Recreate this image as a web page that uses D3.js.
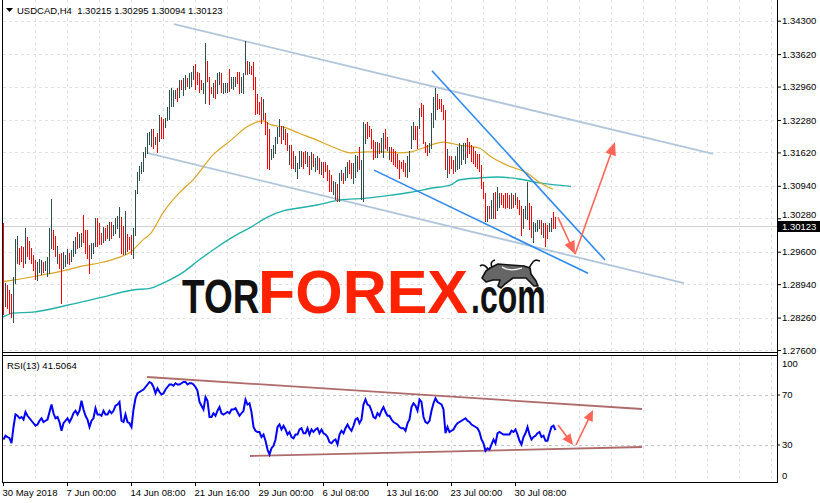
<!DOCTYPE html>
<html><head><meta charset="utf-8">
<script src="https://cdn.jsdelivr.net/npm/d3@7"></script>
<style>
html,body{margin:0;padding:0;background:#fff;}
svg{display:block;}
text{font-family:"Liberation Sans",Arial,sans-serif;}
</style></head><body>
<svg id="c" width="820" height="503"></svg>
<script>
// ---------- DATA ----------
const symbol = "USDCAD,H4";
const lastQuote = ["1.30215","1.30295","1.30094","1.30123"];
const rsiTitle = "RSI(13) 41.5064";
const priceTicks = [1.343,1.3362,1.3296,1.3228,1.3162,1.3094,1.3028,1.296,1.2894,1.2826,1.276];
const rsiTicks = [100,70,30,0];
const rsiLevels = [70,30];
const timeTickIdx = [0,32,64,96,128,160,192,224,256];
const timeTickLabels = ["30 May 2018","7 Jun 00:00","14 Jun 08:00","21 Jun 16:00","29 Jun 00:00","6 Jul 08:00","13 Jul 16:00","23 Jul 00:00","30 Jul 08:00"];

const firstOpen = 1.3005;
const high = [
1.3018,1.2896,1.2892,1.2882,1.2872,1.2908,1.2984,1.2990,1.2967,1.2971,
1.2969,1.3008,1.2988,1.2980,1.2967,1.2953,1.2943,1.2939,1.2945,1.2943,
1.2939,1.2941,1.2949,1.3008,1.3067,1.3004,1.2990,1.2971,1.2955,1.2957,
1.2959,1.2953,1.2965,1.2957,1.2963,1.2980,1.2988,1.3000,1.2994,1.2998,
1.3034,1.3004,1.3004,1.2973,1.2977,1.2977,1.3028,1.3028,1.3018,1.2998,
1.3010,1.3008,1.3014,1.3020,1.3020,1.3014,1.3028,1.3032,1.3049,1.3030,
1.3012,1.3041,1.2994,1.2988,1.2992,1.3008,1.3085,1.3122,1.3134,1.3142,
1.3161,1.3173,1.3201,1.3203,1.3208,1.3208,1.3193,1.3201,1.3238,1.3234,
1.3228,1.3232,1.3254,1.3289,1.3293,1.3289,1.3289,1.3293,1.3309,1.3309,
1.3313,1.3319,1.3313,1.3323,1.3325,1.3336,1.3340,1.3325,1.3323,1.3309,
1.3303,1.3384,1.3346,1.3315,1.3295,1.3303,1.3309,1.3323,1.3325,1.3323,
1.3303,1.3303,1.3303,1.3330,1.3315,1.3315,1.3315,1.3325,1.3325,1.3315,
1.3323,1.3387,1.3346,1.3344,1.3336,1.3344,1.3315,1.3279,1.3264,1.3273,
1.3269,1.3242,1.3222,1.3208,1.3167,1.3177,1.3193,1.3212,1.3228,1.3214,
1.3214,1.3208,1.3201,1.3177,1.3177,1.3163,1.3153,1.3140,1.3163,1.3163,
1.3161,1.3163,1.3161,1.3153,1.3161,1.3157,1.3150,1.3153,1.3150,1.3142,
1.3142,1.3142,1.3136,1.3126,1.3116,1.3102,1.3100,1.3096,1.3120,1.3126,
1.3120,1.3132,1.3142,1.3146,1.3140,1.3140,1.3155,1.3153,1.3173,1.3146,
1.3222,1.3218,1.3222,1.3214,1.3208,1.3187,1.3183,1.3183,1.3181,1.3191,
1.3201,1.3208,1.3193,1.3173,1.3171,1.3167,1.3163,1.3157,1.3146,1.3142,
1.3146,1.3140,1.3153,1.3163,1.3214,1.3222,1.3214,1.3214,1.3252,1.3262,
1.3258,1.3183,1.3177,1.3181,1.3242,1.3273,1.3293,1.3279,1.3269,1.3269,
1.3258,1.3248,1.3167,1.3153,1.3153,1.3146,1.3153,1.3171,1.3181,1.3177,
1.3181,1.3181,1.3191,1.3183,1.3177,1.3171,1.3163,1.3157,1.3157,1.3136,
1.3100,1.3079,1.3051,1.3051,1.3065,1.3079,1.3081,1.3091,1.3079,1.3079,
1.3075,1.3079,1.3079,1.3075,1.3079,1.3075,1.3079,1.3071,1.3065,1.3051,
1.3045,1.3051,1.3100,1.3059,1.3051,1.3020,1.3018,1.3024,1.3024,1.3024,
1.3018,1.3018,1.3014,1.3018,1.3028,1.3040,1.30295];
const low = [
1.2835,1.2851,1.2847,1.2837,1.2829,1.2817,1.2898,1.2939,1.2937,1.2943,
1.2929,1.2939,1.2953,1.2947,1.2939,1.2923,1.2906,1.2904,1.2919,1.2916,
1.2919,1.2923,1.2912,1.2918,1.2969,1.2967,1.2953,1.2939,1.2927,1.2857,
1.2927,1.2931,1.2939,1.2937,1.2943,1.2953,1.2959,1.2969,1.2971,1.2973,
1.2980,1.2959,1.2949,1.2918,1.2949,1.2959,1.2973,1.2973,1.2977,1.2977,
1.2980,1.2984,1.2988,1.2984,1.2988,1.2994,1.3000,1.3010,1.2990,1.2959,
1.2957,1.2957,1.2963,1.2967,1.2957,1.2949,1.2994,1.3081,1.3106,1.3122,
1.3126,1.3153,1.3161,1.3181,1.3177,1.3173,1.3181,1.3163,1.3187,1.3193,
1.3193,1.3214,1.3228,1.3232,1.3258,1.3258,1.3273,1.3268,1.3275,1.3293,
1.3279,1.3293,1.3299,1.3295,1.3299,1.3313,1.3293,1.3303,1.3285,1.3293,
1.3283,1.3264,1.3309,1.3262,1.3283,1.3275,1.3273,1.3283,1.3303,1.3285,
1.3283,1.3285,1.3285,1.3289,1.3295,1.3293,1.3299,1.3305,1.3283,1.3285,
1.3283,1.3323,1.3323,1.3325,1.3323,1.3293,1.3242,1.3244,1.3242,1.3222,
1.3232,1.3201,1.3132,1.3130,1.3150,1.3153,1.3161,1.3183,1.3197,1.3183,
1.3191,1.3181,1.3167,1.3140,1.3132,1.3132,1.3126,1.3110,1.3132,1.3136,
1.3132,1.3142,1.3136,1.3120,1.3130,1.3136,1.3126,1.3130,1.3122,1.3120,
1.3112,1.3126,1.3106,1.3085,1.3085,1.3079,1.3069,1.3065,1.3065,1.3106,
1.3100,1.3106,1.3112,1.3122,1.3110,1.3100,1.3112,1.3126,1.3130,1.3069,
1.3065,1.3183,1.3193,1.3197,1.3173,1.3150,1.3153,1.3153,1.3161,1.3163,
1.3153,1.3173,1.3167,1.3150,1.3146,1.3140,1.3136,1.3132,1.3110,1.3132,
1.3126,1.3116,1.3112,1.3126,1.3173,1.3191,1.3191,1.3171,1.3212,1.3238,
1.3183,1.3163,1.3157,1.3163,1.3173,1.3214,1.3232,1.3252,1.3254,1.3248,
1.3232,1.3130,1.3112,1.3122,1.3132,1.3122,1.3126,1.3130,1.3132,1.3140,
1.3150,1.3142,1.3153,1.3161,1.3146,1.3142,1.3136,1.3132,1.3126,1.3091,
1.3071,1.3024,1.3024,1.3030,1.3030,1.3030,1.3030,1.3045,1.3051,1.3059,
1.3051,1.3049,1.3051,1.3049,1.3049,1.3051,1.3059,1.3049,1.3038,1.2994,
1.3010,1.3030,1.3028,1.3008,1.2990,1.2980,1.3004,1.3004,1.3010,1.2998,
1.2990,1.2973,1.2988,1.3004,1.3004,1.3010,1.30094];
const close = [
1.2882,1.2886,1.2861,1.2851,1.2837,1.2892,1.2959,1.2975,1.2947,1.2945,
1.2939,1.2988,1.2963,1.2953,1.2945,1.2931,1.2914,1.2931,1.2939,1.2941,
1.2925,1.2937,1.2945,1.2988,1.3041,1.2975,1.2961,1.2965,1.2933,1.2931,
1.2951,1.2952,1.2959,1.2941,1.2959,1.2973,1.2984,1.2975,1.2990,1.2994,
1.2988,1.2967,1.2959,1.2931,1.2971,1.2975,1.3020,1.2984,1.2982,1.2980,
1.3006,1.2992,1.2989,1.3014,1.2994,1.3010,1.3024,1.3030,1.3043,1.2973,
1.2963,1.3034,1.2971,1.2969,1.2963,1.3000,1.3075,1.3114,1.3130,1.3140,
1.3155,1.3171,1.3193,1.3201,1.3205,1.3181,1.3191,1.3171,1.3230,1.3201,
1.3197,1.3230,1.3250,1.3283,1.3285,1.3287,1.3289,1.3273,1.3303,1.3295,
1.3309,1.3317,1.3301,1.3319,1.3323,1.3334,1.3309,1.3305,1.3295,1.3293,
1.3299,1.3346,1.3315,1.3293,1.3285,1.3299,1.3279,1.3317,1.3323,1.3291,
1.3299,1.3301,1.3303,1.3295,1.3311,1.3313,1.3315,1.3309,1.3289,1.3309,
1.3317,1.3374,1.3330,1.3340,1.3325,1.3301,1.3252,1.3248,1.3244,1.3230,
1.3262,1.3207,1.3146,1.3136,1.3165,1.3173,1.3187,1.3208,1.3224,1.3189,
1.3209,1.3187,1.3173,1.3175,1.3140,1.3136,1.3138,1.3140,1.3157,1.3161,
1.3146,1.3143,1.3157,1.3126,1.3155,1.3140,1.3146,1.3150,1.3128,1.3138,
1.3130,1.3127,1.3112,1.3093,1.3089,1.3098,1.3100,1.3071,1.3112,1.3124,
1.3104,1.3128,1.3138,1.3128,1.3116,1.3134,1.3148,1.3150,1.3136,1.3140,
1.3212,1.3216,1.3199,1.3198,1.3179,1.3157,1.3155,1.3177,1.3165,1.3185,
1.3193,1.3179,1.3169,1.3171,1.3150,1.3144,1.3140,1.3136,1.3134,1.3132,
1.3130,1.3120,1.3146,1.3159,1.3208,1.3220,1.3195,1.3177,1.3246,1.3242,
1.3191,1.3167,1.3161,1.3179,1.3232,1.3264,1.3285,1.3258,1.3256,1.3250,
1.3236,1.3146,1.3159,1.3136,1.3134,1.3128,1.3148,1.3165,1.3175,1.3177,
1.3179,1.3181,1.3167,1.3163,1.3150,1.3146,1.3140,1.3136,1.3130,1.3098,
1.3075,1.3032,1.3047,1.3034,1.3059,1.3073,1.3038,1.3071,1.3077,1.3067,
1.3061,1.3057,1.3053,1.3050,1.3073,1.3057,1.3075,1.3053,1.3043,1.3002,
1.3038,1.3049,1.3085,1.3016,1.2998,1.3012,1.3016,1.3022,1.3024,1.3002,
1.3012,1.2994,1.2991,1.3016,1.3026,1.30215,1.30123];
const rsi = [
34,37,36,35,31,44,54,53,51,52, 50,56,53,51,49,47,45,46,49,51,
48,49,50,56,62,55,51,52,48,41, 47,49,51,48,51,55,57,54,57,65,
58,53,50,44,49,51,59,54,54,53, 57,54,54,57,55,57,61,62,64,49,
48,54,48,47,44,58,67,71,72,73, 74,76,78,80,79,76,71,75,72,70,
71,74,76,78,78,77,79,78,78,79, 80,80,78,79,79,78,76,73,64,61,
58,68,65,52,52,55,53,57,60,55, 54,55,56,55,58,58,59,56,53,55,
57,66,62,63,56,44,41,40,40,36, 38,33,26,22,27,29,34,44,46,42,
45,42,38,40,36,35,38,38,42,43, 39,39,43,38,42,40,42,43,39,42,
39,38,36,32,31,33,34,30,38,41, 39,43,46,43,41,45,50,51,47,50,
62,66,62,61,57,52,51,55,53,57, 60,56,53,53,50,48,47,46,44,43,
43,41,47,50,60,63,61,57,66,64, 52,48,47,49,57,63,67,64,63,62,
58,39,44,40,41,42,45,47,48,49, 50,51,49,48,46,45,44,43,40,34,
31,25,27,26,30,34,31,39,40,39, 38,38,38,38,41,40,42,38,33,30,
36,39,44,38,34,36,37,39,40,36, 37,33,33,39,44,45,41.5064];

const maFastIdx = [0,5,15,24,32,40,48,57,64,70,74,80,88,95,105,114,122,127,130,134,140,148,157,165,174,182,190,198,204,210,220,228,238,244,252,262,268,275];
const maFastVal = [1.2899,1.2902,1.2909,1.2916,1.2923,1.2931,1.2937,1.2947,1.2960,1.2984,1.2998,1.3039,1.3079,1.3106,1.3157,1.3187,1.3214,1.3224,1.3226,1.3218,1.3214,1.3201,1.3187,1.3173,1.3161,1.3163,1.3163,1.3161,1.3163,1.3171,1.3183,1.3177,1.3171,1.3153,1.3136,1.3120,1.3102,1.3087];
const maSlowIdx = [0,5,15,32,48,65,74,80,90,98,107,115,124,132,140,148,157,168,182,194,204,214,224,228,238,247,258,268,284];
const maSlowVal = [1.2827,1.2835,1.2837,1.2851,1.2866,1.2882,1.2886,1.2896,1.2918,1.2943,1.2969,1.2990,1.3010,1.3030,1.3043,1.3049,1.3055,1.3065,1.3069,1.3075,1.3081,1.3089,1.3096,1.3106,1.3110,1.3112,1.3108,1.3100,1.3093];

// drawn objects (bar index, price)
const channelUpper = [[85.5,1.3423],[355,1.3159]];
const channelLower = [[72,1.3161],[340.5,1.2896]];
const wedgeUpper = [[214.5,1.3328],[301,1.2943]];
const wedgeLower = [[185.5,1.3126],[292.5,1.2916]];
const arrowDown = [[277.5,1.3030],[286,1.2955]];
const arrowUp = [[286,1.2955],[306,1.3183]];
// drawn objects in RSI window (bar index, rsi)
const rsiUpperLine = [[72,84],[319.5,58.4]];
const rsiLowerLine = [[123.5,20.8],[319.5,28]];
const rsiArrowDown = [[277.5,45.6],[285,29.6]];
const rsiArrowUp = [[286.5,29.6],[295,57.6]];

// ---------- DRAW ----------
const svg = d3.select("#c");
const plotL = 3, plotR = 777, mainBot = 352, rsiTop = 356, rsiBot = 482;
const x = d3.scaleLinear().domain([0,387]).range([plotL, plotR]);
const y = d3.scaleLinear().domain([1.276,1.343]).range([350,20.7]);
const yR = d3.scaleLinear().domain([0,100]).range([rsiBot,357]);
const FS = "9.5px";

const defs = svg.append("defs");
defs.append("clipPath").attr("id","clipMain").append("rect")
  .attr("x",plotL).attr("y",0).attr("width",plotR-plotL).attr("height",mainBot);
defs.append("clipPath").attr("id","clipRsi").append("rect")
  .attr("x",plotL).attr("y",rsiTop).attr("width",plotR-plotL).attr("height",rsiBot-rsiTop);

const vGrid = d3.range(16, 387, 16);
const gridCol = "#e2e2e2";

// main grid
const gMain = svg.append("g").attr("clip-path","url(#clipMain)");
gMain.selectAll(".hg").data(priceTicks).join("line").attr("class","hg")
  .attr("x1",plotL).attr("x2",plotR)
  .attr("y1",d=>Math.round(y(d))+0.5).attr("y2",d=>Math.round(y(d))+0.5)
  .attr("stroke",gridCol).attr("stroke-dasharray","3,3");
gMain.selectAll(".vg").data(vGrid).join("line").attr("class","vg")
  .attr("x1",d=>Math.round(x(d))+0.5).attr("x2",d=>Math.round(x(d))+0.5)
  .attr("y1",0).attr("y2",mainBot)
  .attr("stroke",gridCol).attr("stroke-dasharray","3,3");

// bid line
const lastClose = close[close.length-1];
gMain.append("line").attr("x1",plotL).attr("x2",plotR)
  .attr("y1",Math.round(y(lastClose))+0.5).attr("y2",Math.round(y(lastClose))+0.5)
  .attr("stroke","#d0d0d0");

// channel lines (behind bars)
const lineGen = d3.line().x(d=>x(d[0])).y(d=>y(d[1]));
[channelUpper, channelLower].forEach(c=>{
  gMain.append("path").attr("d",lineGen(c)).attr("fill","none")
    .attr("stroke","#b0c6dc").attr("stroke-width",1.8);
});

// moving averages
const maLine = d3.line().x(d=>x(d[0])).y(d=>y(d[1])).curve(d3.curveMonotoneX);
gMain.append("path").attr("d",maLine(maSlowIdx.map((d,i)=>[d,maSlowVal[i]])))
  .attr("fill","none").attr("stroke","#20b2aa").attr("stroke-width",1.4);
gMain.append("path").attr("d",maLine(maFastIdx.map((d,i)=>[d,maFastVal[i]])))
  .attr("fill","none").attr("stroke","#daa520").attr("stroke-width",1.2);

// bars
const bars = high.map((h,i)=>({i, h, l:low[i], c:close[i], o: i===0 ? firstOpen : close[i-1]}));
gMain.append("g").attr("shape-rendering","crispEdges")
  .selectAll("line").data(bars).join("line")
  .attr("x1",d=>Math.round(x(d.i))+0.5).attr("x2",d=>Math.round(x(d.i))+0.5)
  .attr("y1",d=>Math.floor(y(d.h))).attr("y2",d=>Math.ceil(y(d.l))+1)
  .attr("stroke",d=>d.c>=d.o ? "#2f4f4f" : "#ff0000").attr("stroke-width",1);

// wedge lines
[wedgeUpper, wedgeLower].forEach(c=>{
  gMain.append("path").attr("d",lineGen(c)).attr("fill","none")
    .attr("stroke","#2f88f0").attr("stroke-width",1.6);
});

function arrow(g, pts, sx, sy, len, hw, col){
  const x0=sx(pts[0][0]), y0=sy(pts[0][1]), x1=sx(pts[1][0]), y1=sy(pts[1][1]);
  const dx=x1-x0, dy=y1-y0, L=Math.hypot(dx,dy), ux=dx/L, uy=dy/L, nx=-uy, ny=ux;
  const bx=x1-ux*len, by=y1-uy*len;
  g.append("line").attr("x1",x0).attr("y1",y0).attr("x2",x1-ux*len*0.5).attr("y2",y1-uy*len*0.5)
    .attr("stroke",col).attr("stroke-width",1.6);
  g.append("path").attr("d",`M${x1},${y1}L${bx+nx*hw},${by+ny*hw}L${bx-nx*hw},${by-ny*hw}Z`)
    .attr("fill",col);
}
const arrowCol = "#ff6557";
arrow(gMain, arrowDown, x, y, 13, 5.5, arrowCol);
arrow(gMain, arrowUp, x, y, 13, 5.5, arrowCol);

// ---------- logo watermark ----------
const logo = svg.append("g");
logo.append("text").attr("transform","translate(182,313) scale(1,1.32)").text("TOR")
  .attr("font-family","'Liberation Mono',monospace").attr("font-weight","bold")
  .attr("font-size",37).attr("fill","#111");
logo.append("text").attr("x",258).attr("y",313).text("FOREX")
  .attr("font-family","Roboto,Lato,'Open Sans',sans-serif").attr("font-weight",900)
  .attr("font-size",62).attr("fill","#ff2200")
  .attr("textLength",210).attr("lengthAdjust","spacingAndGlyphs");
logo.append("text").attr("transform","translate(471,313) scale(1,1.5)").text(".com")
  .attr("font-family","'Liberation Mono',monospace").attr("font-weight","bold")
  .attr("font-size",32).attr("fill","#111");
const bull = logo.append("g").attr("transform","translate(480,258)");
bull.append("path")
  .attr("d","M2,20 L6,13 L10,10 L18,6 L30,7 L44,8 L50,10 L51,16 L56,23 L58,28 L54,28 L46,20 L33,20 L25,26 L21,30 L18,28 L20,22 L13,22 L6,24 Z")
  .attr("fill","#666").attr("stroke","#111").attr("stroke-width",1.6).attr("stroke-linejoin","round");
bull.append("path").attr("d","M8,11 C5,7 3,6 0,8 M12,9 C10,5 12,3 15,2 M49,10 C52,6 52,3 56,2 L60,3")
  .attr("fill","none").attr("stroke","#111").attr("stroke-width",1.6);
bull.append("path").attr("d","M22,9 C28,13 36,12 42,10").attr("fill","none").attr("stroke","#fff").attr("stroke-width",1.2);

// ---------- RSI window ----------
const gR = svg.append("g").attr("clip-path","url(#clipRsi)");
gR.selectAll(".vg").data(vGrid).join("line").attr("class","vg")
  .attr("x1",d=>Math.round(x(d))+0.5).attr("x2",d=>Math.round(x(d))+0.5)
  .attr("y1",rsiTop).attr("y2",rsiBot)
  .attr("stroke",gridCol).attr("stroke-dasharray","3,3");
gR.selectAll(".lv").data(rsiLevels).join("line").attr("class","lv")
  .attr("x1",plotL).attr("x2",plotR)
  .attr("y1",d=>Math.round(yR(d))+0.5).attr("y2",d=>Math.round(yR(d))+0.5)
  .attr("stroke","#c4c4c4").attr("stroke-dasharray","3,3");
const rLine = d3.line().x(d=>x(d[0])).y(d=>yR(d[1]));
[rsiUpperLine, rsiLowerLine].forEach(c=>{
  gR.append("path").attr("d",rLine(c)).attr("fill","none")
    .attr("stroke","#a65a5a").attr("stroke-width",1.8).attr("stroke-opacity",0.9);
});
gR.append("path").attr("d",d3.line().x((d,i)=>x(i)+0.5).y(d=>yR(d))(rsi))
  .attr("fill","none").attr("stroke","#0000ff").attr("stroke-width",2);
arrow(gR, rsiArrowDown, x, yR, 11, 5, arrowCol);
arrow(gR, rsiArrowUp, x, yR, 11, 5, arrowCol);

// ---------- frame ----------
const frame = svg.append("g").attr("stroke","#000").attr("shape-rendering","crispEdges");
frame.append("line").attr("x1",2.5).attr("x2",2.5).attr("y1",0).attr("y2",rsiBot+0.5);
frame.append("line").attr("x1",plotR+0.5).attr("x2",plotR+0.5).attr("y1",0).attr("y2",rsiBot+0.5);
frame.append("line").attr("x1",2).attr("x2",plotR+1).attr("y1",mainBot+0.5).attr("y2",mainBot+0.5);
frame.append("line").attr("x1",2).attr("x2",plotR+1).attr("y1",rsiTop-0.5).attr("y2",rsiTop-0.5);
frame.append("line").attr("x1",2).attr("x2",plotR+1).attr("y1",rsiBot+0.5).attr("y2",rsiBot+0.5);

// ---------- axes ----------
const styleAxis = g => {
  g.select(".domain").remove();
  g.selectAll("text").attr("font-size",FS).attr("fill","#000")
    .attr("font-family","'Liberation Sans',Arial,sans-serif");
  g.selectAll("line").attr("stroke","#000");
};
const pAxis = svg.append("g").attr("transform",`translate(${plotR},0)`)
  .call(d3.axisRight(y).tickValues(priceTicks).tickFormat(d3.format(".5f")).tickSize(4).tickPadding(1))
  .call(styleAxis);
pAxis.selectAll(".tick").filter(d=>d===1.3028).select("text").attr("dy","-0.05em");

// current price label
const cy = y(lastClose);
svg.append("rect").attr("x",plotR+1).attr("y",cy-5).attr("width",43).attr("height",11).attr("fill","#000");
svg.append("text").attr("x",plotR+5).attr("y",cy+4).text(lastQuote[3])
  .attr("font-size",FS).attr("fill","#fff");

const rAxis = svg.append("g").attr("transform",`translate(${plotR},0)`)
  .call(d3.axisRight(yR).tickValues(rsiTicks).tickSize(3).tickPadding(2))
  .call(styleAxis);
rAxis.selectAll(".tick").filter(d=>d===100).select("text").attr("dy","1.0em");
rAxis.selectAll(".tick").filter(d=>d===0).select("text").attr("dy","-0.35em");
rAxis.selectAll(".tick").filter(d=>d===100||d===0).select("line").remove();

const tAxis = svg.append("g").attr("transform",`translate(0,${rsiBot})`)
  .call(d3.axisBottom(x).tickValues(timeTickIdx).tickFormat((d,i)=>timeTickLabels[i]).tickSize(4).tickPadding(3))
  .call(styleAxis);
tAxis.selectAll("text").attr("text-anchor","start").attr("x",-1);

// header
svg.append("path").attr("d","M6,8L13,8L9.5,12Z").attr("fill","#000");
svg.append("text").attr("x",17).attr("y",14).attr("font-size",FS).attr("fill","#000")
  .attr("xml:space","preserve")
  .text(symbol + "  " + lastQuote.join(" "));
svg.append("text").attr("x",7).attr("y",369).attr("font-size",FS).attr("fill","#000")
  .text(rsiTitle);
</script>
</body></html>
